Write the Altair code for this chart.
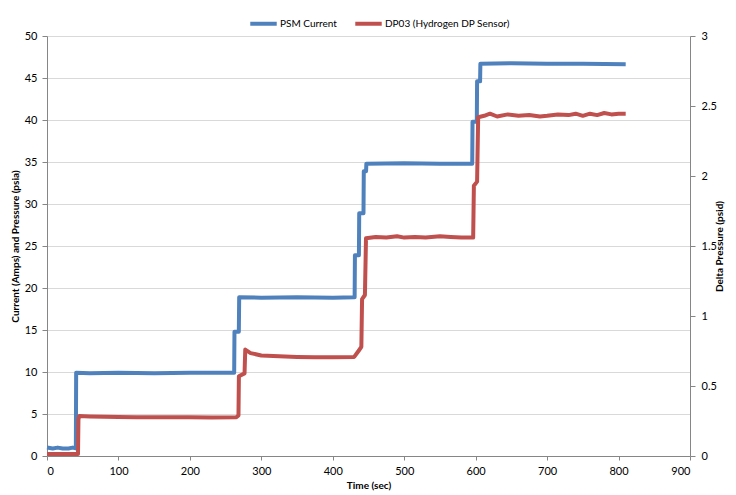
import altair as alt
import pandas as pd

# PSM Current (Amps), left axis
psm_t = [0, 8, 15, 22, 30, 36, 40.4, 40.8, 60, 100, 150, 200, 240, 262, 262.4, 268.5,
         269, 300, 350, 400, 430.6, 431, 436.6, 437, 443, 443.4, 446.6, 447, 500,
         550, 595.2, 595.6, 601.6, 602, 606.2, 606.6, 650, 700, 750, 810]
psm_v = [1.0, 0.9, 1.0, 0.9, 0.9, 1.0, 0.9, 9.9, 9.85, 9.9, 9.85, 9.9, 9.9, 9.9, 14.8,
         14.8, 18.9, 18.85, 18.9, 18.85, 18.9, 23.9, 23.9, 28.9, 28.9, 33.9, 33.9,
         34.8, 34.85, 34.8, 34.8, 39.8, 39.8, 44.6, 44.6, 46.7, 46.75, 46.7, 46.7, 46.65]

# DP03 (Hydrogen DP Sensor) (psid), right axis
dp_t = [0, 20, 43.4, 44, 45, 60, 80, 100, 125, 150, 175, 200, 230, 265, 268, 268.6,
        276.5, 277.5, 285, 300, 325, 350, 375, 400, 430, 436, 440, 441, 445, 446.5,
        460, 475, 490, 500, 515, 530, 550, 565, 580, 596.5, 597.5, 602, 603.5, 612,
        620, 630, 645, 660, 675, 690, 700, 715, 730, 740, 750, 760, 770, 780, 790,
        800, 810]
dp_v = [0.015, 0.015, 0.015, 0.26, 0.285, 0.282, 0.28, 0.279, 0.277, 0.276, 0.277,
        0.276, 0.275, 0.277, 0.29, 0.57, 0.59, 0.76, 0.735, 0.718, 0.712, 0.708,
        0.706, 0.705, 0.708, 0.75, 0.78, 1.12, 1.15, 1.555, 1.565, 1.56, 1.57, 1.56,
        1.565, 1.56, 1.57, 1.565, 1.56, 1.56, 1.93, 1.96, 2.42, 2.43, 2.445, 2.425,
        2.44, 2.43, 2.435, 2.425, 2.43, 2.44, 2.435, 2.445, 2.43, 2.445, 2.435, 2.45,
        2.44, 2.445, 2.445]

s1 = "PSM Current"
s2 = "DP03 (Hydrogen DP Sensor)"

df1 = pd.DataFrame({"t": psm_t, "v": psm_v, "series": s1})
df2 = pd.DataFrame({"t": dp_t, "v": dp_v, "series": s2})

FONT = "Lato"
color = alt.Color(
    "series:N",
    scale=alt.Scale(domain=[s1, s2], range=["#4F81BD", "#C0504D"]),
    legend=alt.Legend(
        title=None, orient="none", direction="horizontal", legendX=201, legendY=-28,
        symbolType="stroke", symbolStrokeWidth=4, symbolSize=700,
        labelFontSize=10, labelFont=FONT, labelColor="#000", columnPadding=10,
        symbolOffset=0, labelOffset=1, padding=0,
    ),
)

xenc = alt.X(
    "t:Q",
    scale=alt.Scale(domain=[0, 900], nice=False),
    axis=alt.Axis(values=list(range(0, 901, 100)), title="Time (sec)", grid=False,
                  tickSize=4, labelPadding=5, titlePadding=4),
)

left = alt.Chart(df1).mark_line(strokeWidth=4, strokeJoin="round").encode(
    x=xenc,
    y=alt.Y("v:Q", scale=alt.Scale(domain=[0, 50], nice=False),
            axis=alt.Axis(values=list(range(0, 51, 5)), title="Current (Amps) and Pressure (psia)",
                          grid=True, tickSize=5, labelPadding=5, titlePadding=4)),
    color=color,
    order=alt.Order("t:Q"),
)

right = alt.Chart(df2).mark_line(strokeWidth=4, strokeJoin="round").encode(
    x=xenc,
    y=alt.Y("v:Q", scale=alt.Scale(domain=[0, 3], nice=False),
            axis=alt.Axis(values=[0, 0.5, 1, 1.5, 2, 2.5, 3], format=".1~f",
                          title="Delta Pressure (psid)", titleAngle=270, titleBaseline="bottom",
                          orient="right", grid=False, tickSize=5, labelPadding=6,
                          titlePadding=8)),
    color=color,
    order=alt.Order("t:Q"),
)

chart = alt.layer(left, right).resolve_scale(y="independent").properties(
    width=643, height=420,
    autosize=alt.AutoSizeParams(type="none"),
    padding={"left": 39, "top": 28, "right": 38, "bottom": 45},
).configure_view(stroke=None).configure_axis(
    labelFont=FONT, titleFont=FONT, labelFontSize=11, titleFontSize=10,
    labelColor="#000", titleColor="#000", titleFontWeight="bold",
    domainColor="#868686", tickColor="#868686", gridColor="#D9D9D9",
)

chart.save("out.html", embed_options={"renderer": "svg", "actions": False})
